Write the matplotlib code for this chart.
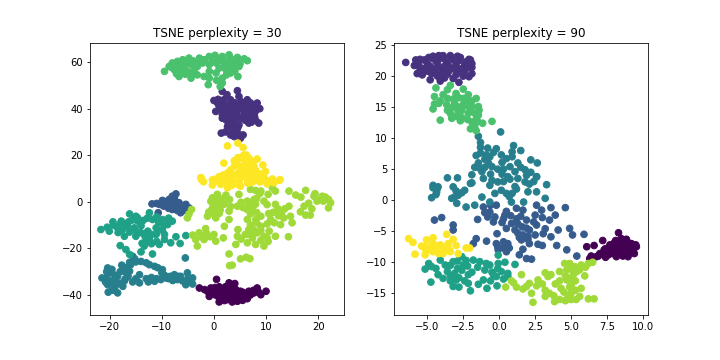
import numpy as np
from matplotlib import pyplot as plt

# points per digit class as (x, y)
p30_0 = [(-2.8,-37),(-1.8,-37.7),(.5,-33.3),(-.6,-37),(-.9,-40.6),(.65,-38.4),(1,-43),(2.9,-34.8),(4,-35.1),(1.9,-37.7),(3.2,-39.9),(4.5,-42.7),(6.4,-41.6),(5.1,-38.4),(6.7,-38.4),(8.3,-37),(9,-39.9),(10,-38.4),(7.7,-39.1),(2.6,-42),(4.2,-37.7),(1.6,-40.6),(3.4,-41.5),(5.5,-40.5),(.3,-40),
         (-1.2,-38.5),(-.2,-39),(1,-36.5),(1.2,-38.8),(2.2,-36.5),(2.4,-38.8),(2.2,-41),(3.3,-36.7),(3.6,-38.5),(4.4,-39.5),(4.2,-41.3),(3.5,-43),(5,-41.5),(5.5,-42.3),(6.2,-40),(5.6,-38.9),(7,-40),(7.6,-38),(8.6,-38.8),(1,-41.2),(2,-42.4),(-.4,-38),(.2,-36.8),(3,-37.8)]
p30_1 = [(1.6,47.4),(2.5,46),(4.5,47.7),(0,43.5),(.7,42.4),(3.2,43.8),(4.8,45.2),(6.4,43.8),(8.3,42.4),(8.8,40),(7.7,37.4),(8.6,33.8),(6.7,33.8),(5.8,38.1),(4.5,41),(2.6,41),(1.3,39.5),(.35,38.8),(1.6,35.9),(3.2,37.4),(3.9,34.5),(5.1,35.9),(2.6,32.3),(4.2,30.9),(3.2,28.7),(1.4,29.5),(5.1,27.3),(5.6,28.7),(7.05,39.5),(7.4,35.9),(1.9,43.8),(3.5,39.5),(4.8,33),
         (.8,44),(1.3,43),(1,41),(2,42),(2,40),(3.2,41.5),(4,42.5),(5.2,43),(5.6,42),(5.2,40),(6.2,41),(7,42.5),(7.8,41),(8,39),(6.6,38),(4.2,39),(3,39),(2,38),(1.6,37.5),(2.6,36.5),(3.8,36.5),(4.4,37.6),(2.4,35),(3,34),(2.8,32.8),(3.7,32),(4.6,32),(3.6,30.5),(4.6,29.5),(3.9,28),(2.2,30),(6,35),(7.2,34.2),(8,35),(6.2,36.5),(7.8,36.5)]
p30_2 = [(-11.9,-.9),(-10.5,-1.1),(-9.9,.6),(-8.6,1),(-8,2.4),(-7.3,3.4),(-9.2,-1.9),(-8,-3.3),(-6.7,-.4),(-5.4,-1.1),(-4.8,-2.6),(-6.4,-4.7),(-10.7,-4.7),(-7.6,-1.1),(-8.9,.3),(-5.5,-3.7),
         (-9.7,-1.8),(-9.2,-.6),(-8.2,-.8),(-7.5,.5),(-7.6,-2.5),(-6.9,-2),(-6.2,-2),(-6,-3.5),(-8.7,-2.8),(-7,-3.8),(-7.6,1.5),(-11,-.7)]
p30_3 = [(-15.6,-23.4),(-15,-25.8),(-13,-26.2),(-11.4,-27.7),(-9.9,-29.1),(-9.2,-32.7),(-20.4,-28.4),(-17.7,-27.2),(-21.5,-32.7),(-19.7,-30.5),(-18.5,-32),(-19.4,-34.8),(-20.4,-35.6),(-20.3,-38.8),(-18.5,-39.1),(-17.5,-36.3),(-16.2,-29.8),(-14.3,-31.3),(-15.6,-34.4),(-14.3,-34.8),(-12.6,-34.4),(-11.4,-34.1),(-10.2,-33.4),(-7.6,-31.3),(-7.9,-33.8),(-6.4,-32),(-5.1,-30.5),(-4.1,-32.7),(-5.4,-35.6),(-4.1,-35.3),(-5.5,-24.1),(-19.1,-33.4),(-17.2,-29.8),
         (-15.2,-24.5),(-16.2,-26),(-14,-25.6),(-12.4,-27),(-10.8,-28.3),(-10,-30.5),(-9.5,-31.5),(-8.7,-33),(-8.4,-32),(-6.9,-32),(-7,-33.4),(-6,-34),(-5,-33),(-4.8,-34.3),(-11,-33),(-12,-32.5),(-13,-33),(-15,-33),(-16.5,-32),(-17.2,-34),(-18,-35),(-19,-36.5),(-19.5,-38),(-20.6,-30),(-20.6,-32.5),(-19,-31.5),(-20,-34),(-18,-30),(-19.6,-29),(-16.6,-28),(-17,-33),(-16,-27),(-20.8,-34.5)]
p30_4 = [(-21.7,-11.9),(-20.5,-10.9),(-19.4,-8.6),(-17.8,-8.3),(-16.2,-5.2),(-15,-6.2),(-20.1,-12.6),(-18.5,-11.2),(-17.2,-14.8),(-16.6,-10.5),(-14.6,-8.3),(-12.4,-4.7),(-11.8,-7.6),(-9.9,-7.6),(-8,-8.3),(-8.9,-9.8),(-11.1,-11.2),(-14,-13.3),(-12.7,-12.6),(-9.5,-14),(-9.5,-16.2),(-12.4,-16.2),(-10.5,-18.3),(-13.4,-19),(-14,-21.5),(-11.8,-22.4),(-8.3,-17.6),(-7.3,-15),(-6.5,-17.9),(-5.4,-14.5),(-18,-18.8),(-16.9,-20.5),(-16.2,-22.6),(-15.3,-11.2),(-11.1,-14),
         (-19.3,-10),(-18,-9.5),(-17.2,-10),(-17.6,-12),(-18.4,-13.2),(-16.2,-13),(-15,-14.8),(-14,-10.3),(-13.6,-8),(-14.7,-6.8),(-15.6,-7.8),(-12.8,-7),(-11,-6.5),(-10.6,-9),(-9.6,-10),(-8.7,-7),(-10.8,-12.5),(-13.2,-15),(-12,-14),(-13,-17),(-12,-18),(-11,-17),(-9.9,-12),(-13.8,-17.8),(-14.8,-13),(-16.4,-8.6)]
p30_5 = [(-9.5,56),(-8.6,58.1),(-8,59.6),(-7,60.3),(-6,61),(-4.8,61.7),(-2.8,61.7),(-.9,62.4),(.2,62.9),(1.6,62.4),(2.9,63.1),(4.5,62),(5.8,61.4),(6.4,60.6),(-7.6,56.7),(-6.7,53.8),(-4.4,53.1),(-5.7,58.1),(-4.4,58.9),(-3.2,58.1),(-2.2,59.6),(-.9,58.9),(.4,59.6),(1.3,61),(2.6,60.3),(3.9,59.6),(4.8,58.1),(3.5,57.4),(2.3,56.7),(1,57.4),(-.9,56),(-1.9,53.8),(-.9,53.1),(.4,55.3),(1.6,53.1),(-1.1,50.3),(1.6,51),(3.2,55.3),(4.6,53.8),(-3.8,56.7),(-5.1,56),(-6.4,57.4),
         (-8,57.5),(-7,58.5),(-6.4,59.5),(-5.2,60),(-4,60.5),(-3,60),(-1.8,61),(-.3,60.8),(.8,60.5),(2,59),(3.2,61.5),(3,58.5),(4.4,60.6),(5,59.2),(-5.5,54.8),(-4.3,55),(-3.2,54.5),(.5,52.2),(2.4,54.5),(1.2,49.5),(4,56),(-6.2,56),(-7.2,55)]
p30_6 = [(-4.3,-3.3),(-5.1,-6.9),(-4.8,-5.2),(-.3,1.7),(.65,3.2),(2.3,2.9),(4.8,3.2),(7,5.3),(8,4.9),(9,4.6),(11.2,6),(11.8,4.6),(14.4,4.6),(15.7,2.9),(16.7,2),(17.6,4.9),(19.2,2.4),(20.8,2.4),(22,1),(22.4,-.4),(22,-2.6),(17.3,-1.9),(18.5,-5.7),(16.6,-4.3),(19.8,.3),(-.3,-2.6),(1,-1.9),(-1.25,-6.2),(.35,-6.9),(2.9,-4),(2.9,-7.6),(2,-10.5),(4.5,-1.9),(6.4,.3),(7.7,1),(9.6,.3),(11.8,-1.1),(14.4,-1.9),(6.4,-3.3),(9,-6.2),(6.4,-7.6),(13.4,-6.9),(14.7,-6.2),(15,-9),(12.8,-9.8),(10.9,-7.6),(9,-10.5),(6.7,-11.9),(4.6,-11.9),(-1.6,-11.5),(-2.85,-13.3),(-4.1,-14.3),(-3.2,-19),(-3.5,-16.2),(-1.9,-16.2),(0,-14),(1.8,-15.5),(.35,-16.9),(4.5,-14.8),(4.2,-18.3),(6.4,-14),(6.4,-17.6),(8.3,-13.3),(8,-18.3),(9.6,-19),(10.6,-12.6),(11.8,-14.8),(14.3,-15),(9.6,-14.8),(2.9,-22.4),(5.1,-24.5),(6.2,-23.8),(6.9,-24.4),(3,-27.4),(3.5,-27.2),
         (-.6,.2),(.8,.4),(1.6,1.2),(.2,-.3),(-1,-4.4),(.4,-3.8),(1.2,-3.5),(-.3,-5),(1,-5),(3.2,-2),(5.2,-.2),(5.6,-2.5),(6.8,-1.5),(7.4,-3),(8,-1),(8.2,1.5),(7,-5.2),(8.2,-4.6),(8,-7.7),(10.2,-1.2),(10.5,-5),(11.4,-4.5),(12.3,-3),(13,-4.5),(13.6,-3),(12.4,-6),(11.6,-9),(10.2,-9.5),(8.2,-9),(7,-10),(7.6,-12),(6,-14),(5.2,-16),(7.4,-15.5),(9,-16.5),(10.2,-15.5),(10.4,-17),(7.4,-13.5),(9,-12.2),(-1.4,-13.6),(-2.4,-15),(19.4,3.5),(20.4,1),(21,.3),(21.4,2),(18.2,-.6),(18.8,-3),(17.6,-5.7),(-.7,-15),(3,1),(2,-1),(8.8,3.5),(10.4,3.2)]
p30_7 = [(2.6,24),(4.6,25.2),(5.6,23.3),(6.2,20.1),(3.9,17.6),(5.1,18.7),(7,18),(8.3,18.4),(1.9,16.6),(9.4,15.8),(6.4,15.8),(5.1,15.1),(3.2,13.7),(7.7,15.1),(9.9,13),(-2.5,10.4),(1,10.8),(3.9,11.5),(6.4,12.3),(9,10.8),(-.3,9.4),(11.2,9.8),(12.7,9.5),(-2.4,9.6),(-2,8.6),(0,9.6),(-.3,7.2),(1.3,7.5),(2.6,8.9),(3.9,8.2),(5.1,6.7),(6.4,9.6),(8,9.6),(9.6,10.3),(10.2,7.7),(11.5,8.2),(12.5,9.2),(2.6,6),(4.6,7.5),
         (4.6,19),(5.7,20),(6.6,19),(7.5,16.8),(6,17),(4.4,16),(5.5,14),(6.6,14),(8,13.5),(8.8,12),(7.6,11.2),(4.8,12.5),(3.3,11.8),(2.6,12.4),(1.8,11.5),(.5,9),(1.8,9.8),(3,10),(5,10.3),(4.8,8.8),(6.5,8),(7.4,8.5),(8.8,8.5),(9.2,9.4),(10.2,9),(2,8),(3.4,7),(5.8,11),(7,13),(3.9,15.2)]

p90_0 = [(6.09,-7.5),(6.6,-7.3),(7.2,-6.5),(8.3,-5.25),(6.3,-9.4),(6.76,-9.1),(7.2,-8.6),(7.7,-7.2),(7.9,-8.6),(8.4,-7),(8.85,-6.3),(9.2,-7),(9.54,-7.5),(9.4,-8.6),(8.6,-8.3),(8.96,-9.1),(8.15,-9.1),(7.6,-8.8),(9.08,-7.8),(8.3,-7.8),(7.8,-7.9),(7.3,-8),(7,-8.6),(8.6,-7.5),
         (6.9,-9),(7.4,-9.2),(7.4,-7.8),(8,-6.9),(8.1,-7.7),(8.9,-7.7),(8.9,-8.5),(9.3,-7.6),(9,-6.9),(8.5,-6.2),(9.3,-8.2),(8.6,-9),(7.7,-8.2),(8.3,-8.5),(8.5,-6.8),(7.6,-7.9),(6.4,-9),(9.5,-7.2),(8.1,-6.5),(9,-8)]
p90_1 = [(-6.5,22.2),(-5.9,21.7),(-5.5,22.7),(-4.9,23),(-4.2,23.3),(-3.4,23.3),(-2.7,23),(-2,22.6),(-1.9,22),(-5,22),(-4.35,22.3),(-3.65,22),(-3,22),(-2.4,21.8),(-5.3,21.2),(-4.6,21.2),(-3.9,21.2),(-3.2,21.2),(-2.6,21.2),(-5.7,20.4),(-5.35,20.2),(-4.8,19.4),(-4.1,19.2),(-3.8,19.7),(-3.2,19.6),(-2.8,19),(-2.1,19.9),(-1.9,20.4),(-4.7,20.4),(-4,20.4),
         (-5.2,22.6),(-4.6,22.8),(-4.2,22.7),(-3.8,22.8),(-3.3,22.7),(-2.8,22.5),(-2.3,22.3),(-5.6,21.9),(-5.5,21.2),(-4.8,21.6),(-4.2,21.6),(-3.5,21.6),(-3,21.5),(-2.2,21.4),(-2.1,22.7),(-5,20.8),(-4.4,20.9),(-3.5,20.8),(-2.9,20.6),(-2.4,20.8),(-4.3,20),(-3.6,20.3),(-3,20.2),(-2.5,20),(-5.8,22.6),(-3.9,23.3),(-4.6,23.2),(-2.9,23.2),(-3.7,21.9),(-1.9,21.4)]
p90_2 = [(-4.5,-3.2),(-4,-2.8),(-3.2,-4),(-3.2,-4.8),(-1.5,-3.1),(-1.1,-1.1),(-.65,-1.9),(-.2,-.8),(.5,-1.8),(1.2,-1.3),(1.65,-1.6),(2.6,-.8),(3.6,-1.2),(4.6,-1.2),(2.95,-1.6),(2.5,-2.4),(-.3,-2.7),(.3,-3),(-.4,-3.5),(1.2,-3),(.86,-3.75),(.5,-4.55),(1.9,-3.2),(2.6,-4),(3.5,-3.2),(3.9,-2.4),(4.1,-4.8),(4.9,-4.55),(5.1,-5.6),(5.9,-5.5),(3.6,-5.9),(3.06,-5.4),(2.1,-4.8),(1.65,-5.6),(1.55,-6.4),(2.1,-7),(2.7,-7.1),(4,-7.3),(4.7,-8),(5.4,-9),(-.15,-5.4),(-1.6,-6.2),(-1.8,-7),(-.88,-6.6),(-.2,-7),(.3,-6.7),(.6,-7),(-.07,-8),(.5,-8.3),(1.65,-7.9),(1.4,-8.8),(1.9,-9.4),(2.25,-9.5),
         (.8,-2.5),(1.5,-2.6),(.2,-3.6),(1.3,-3.8),(1.6,-4.3),(1.1,-4.8),(1.9,-4.5),(1.3,-5.3),(2,-5.8),(2.5,-5.6),(1.4,-6),(2,-6.3),(2.4,-3.5),(3,-2.8),(-.8,-2.7),(-1,-2),(-.6,-.8),(.7,-7.7),(-.1,-7.5),(.3,-7.7),(3.2,-4.6),(3,-7.3),(.4,-2.4)]
p90_3 = [(.1,11),(-1.45,10.3),(-1.3,9.3),(1,8.8),(1.5,8),(-.8,8.4),(-.2,8.3),(.9,7.8),(-1.3,7.6),(-.65,7),(.15,7.3),(.9,7),(2.2,6.5),(2.65,6),(-1.45,6),(-1.7,5.3),(-.75,6),(-.1,5),(1.3,6),(.75,5.4),(1.8,4.9),(1.1,4.6),(-1.2,4.6),(-.6,4.2),(-1.9,4.1),(.6,3.8),(2.6,3.8),(-3.6,3.6),(-2.9,3.6),(-1.9,2.8),(-1.1,3.5),(-.65,2.4),(-.1,2.95),(.75,3.4),(1.1,2.2),(1.8,2.95),(2.6,3.75),(3.3,2.5),(-4.6,2.4),(-4.25,2.15),(-4.35,1.3),(-4.7,.4),(-3.2,2.15),(-3.3,.3),(-2.85,.8),(-2.4,1.6),(-2.95,-.5),(-2,2.7),(-.3,1.1),(.15,1.6),(.5,1.1),(.9,1.1),(1.7,-.3),(.85,-.3),(2,1.35),(2.6,1.35),(3.2,.3),(-1.2,.5),(-.65,-.3),(-2.3,-1.1),(-1.7,-.8),
         (-1,6.6),(-.5,5.4),(.2,6.1),(.5,6.7),(-1.4,5.2),(-.9,7.3),(-.4,7.7),(.2,4.2),(.3,5),(1.5,5.3),(1.9,4),(2.2,4.5),(-.5,3.2),(.3,3),(1.3,3.5),(2.1,2.6),(2.4,3),(-1,5.3),(-1.6,7.2),(-1.3,8.5),(-4.3,1.9),(-4.4,.9),(-4.6,2),(-3,1.5),(-3.1,.5),(-2.6,1.2),(.7,.6),(1.2,1.8)]
p90_4 = [(-4.9,-10.2),(-5.15,-11.1),(-4.75,-13.2),(-4.7,-10.7),(-4.1,-9.65),(-4.25,-12),(-3.9,-12.6),(-3.75,-10.45),(-3.2,-9.9),(-2.6,-9.1),(-2.5,-10.45),(-3.1,-11.8),(-3.2,-13.9),(-3,-12.85),(-2.15,-12),(-2.15,-13.4),(-2,-14.6),(-1.45,-13.55),(-.85,-14.2),(-1.1,-12.85),(-1.8,-9.65),(-1.35,-9.9),(-1,-11.25),(-.65,-10.45),(-.07,-8.85),(.4,-10),(-.07,-10.2),(-.4,-12),(.15,-11.5),(.6,-11.8),(1.1,-10.35),(-.15,-13.8),(.3,-12.7),(.6,-12.3),
         (-3.6,-11.5),(-3.4,-10.5),(-3.4,-12.2),(-2.9,-11),(-2.8,-12.5),(-2.6,-11.3),(-2.9,-9.8),(-2.2,-10.6),(-2.3,-9.7),(-1.5,-10.8),(-2.4,-13),(-.9,-10.2),(-.5,-11.6),(-.6,-13),(-.1,-11),(-.2,-12.3),(-3.4,-13),(-2.8,-14),(-1.9,-11.6),(-4.4,-11)]
p90_5 = [(-4.4,18.1),(-3.4,18.5),(-2.5,17.9),(-4.5,16.7),(-3.9,17),(-3,17.2),(-2.15,17),(-1.6,16.4),(-4.6,14.7),(-4.2,15.6),(-3.65,15.4),(-3.1,15.6),(-2.5,15.4),(-1.9,15.1),(-1.45,15.1),(-3.4,14),(-2.85,14.3),(-2.15,14),(-1.45,13.7),(-4.1,12.9),(-3.3,13.2),(-2.7,12.8),(-1.9,12.6),(-1.15,12.4),(-.5,12.7),(-2,11.5),(-1.6,11.2),(-1.7,11.9),
         (-4.1,16),(-3.6,16.4),(-3.2,16.3),(-2.8,16.5),(-2.5,16.4),(-2.2,16),(-1.9,16),(-3.2,15),(-2.8,15),(-2.2,15.2),(-2,14.5),(-2.6,14.5),(-3.6,14.5),(-1.7,14),(-1.6,13),(-2.2,13),(-2.6,13.3),(-4.5,15.5),(-3.6,17.8),(-1.5,12.7),(-3,13.5),(-1.4,14.5)]
p90_6 = [(.45,-14),(.85,-13),(1.2,-14),(1.55,-12),(1.65,-14.3),(2.1,-13.4),(2.7,-12.85),(2.25,-15),(2.35,-16.45),(3.2,-11.7),(3.6,-12),(3.4,-12.3),(3.2,-14.5),(3.5,-15),(3.85,-16.35),(3.2,-15.5),(4.3,-14.2),(4.2,-16),(4.7,-16),(5,-15),(5.35,-16),(5.7,-14.2),(5,-13.7),(4.7,-12.85),(5.15,-12),(4.2,-11.5),(4.55,-10.2),(4.9,-10.2),(4.7,-11.25),(5.25,-10.7),(5.7,-10.45),(5.95,-12.2),(6.2,-10.2),(6.5,-10),(6.2,-15.9),(6.6,-15.9),(5,-12.6),
         (4.2,-13),(4.5,-14.8),(4.8,-15.5),(5.3,-14.5),(5.3,-13),(5.4,-11.5),(5,-11),(4.6,-12.2),(3,-13.5),(2.6,-13.8),(1.9,-13.9),(3.8,-15.4),(4.6,-16.2),(5,-16),(5.6,-15.5),(5.6,-11.2),(6,-10.8),(4.9,-14),(3.9,-13.5),(1,-13.3)]
p90_7 = [(-6.3,-6.2),(-6,-6.8),(-5.85,-8.7),(-5.4,-7.4),(-5.05,-6.4),(-4.6,-6.05),(-3.65,-5.5),(-3.2,-6.3),(-5.15,-8.8),(-4.8,-7.5),(-4.35,-8),(-3.9,-8.6),(-3.55,-7),(-3,-7.3),(-2.85,-8.6),(-2.3,-7.7),(-2.05,-7.7),(-4.25,-7.5),(-4.6,-8.3),
         (-4.6,-7),(-4.4,-7.5),(-4.9,-7.9),(-4.1,-7.2),(-3.9,-7.7),(-3.5,-7.9),(-3.4,-8.3),(-5.1,-8),(-4.6,-7.7),(-4.2,-8.6),(-5.2,-7.5)]

clusters_30 = [p30_0, p30_1, p30_2, p30_3, p30_4, p30_5, p30_6, p30_7]
clusters_90 = [p90_0, p90_1, p90_2, p90_3, p90_4, p90_5, p90_6, p90_7]


def draw_tsne(ax, clusters, perplexity):
    points = np.array([p for c in clusters for p in c])
    labels = np.concatenate([[i] * len(c) for i, c in enumerate(clusters)])
    ax.scatter(points[:, 0], points[:, 1], c=labels, s=44)
    ax.set_title('TSNE perplexity = {}'.format(perplexity))


fig, (ax1, ax2) = plt.subplots(1, 2, figsize=(10, 5), dpi=72)
fig.subplots_adjust(bottom=0.125)

draw_tsne(ax1, clusters_30, 30)
ax1.set_xlim(-23.8, 24.9)
ax1.set_ylim(-48.6, 68.1)

draw_tsne(ax2, clusters_90, 90)
ax2.set_xlim(-7.29, 10.35)
ax2.set_ylim(-18.5, 25.3)

fig.savefig('out.png')
